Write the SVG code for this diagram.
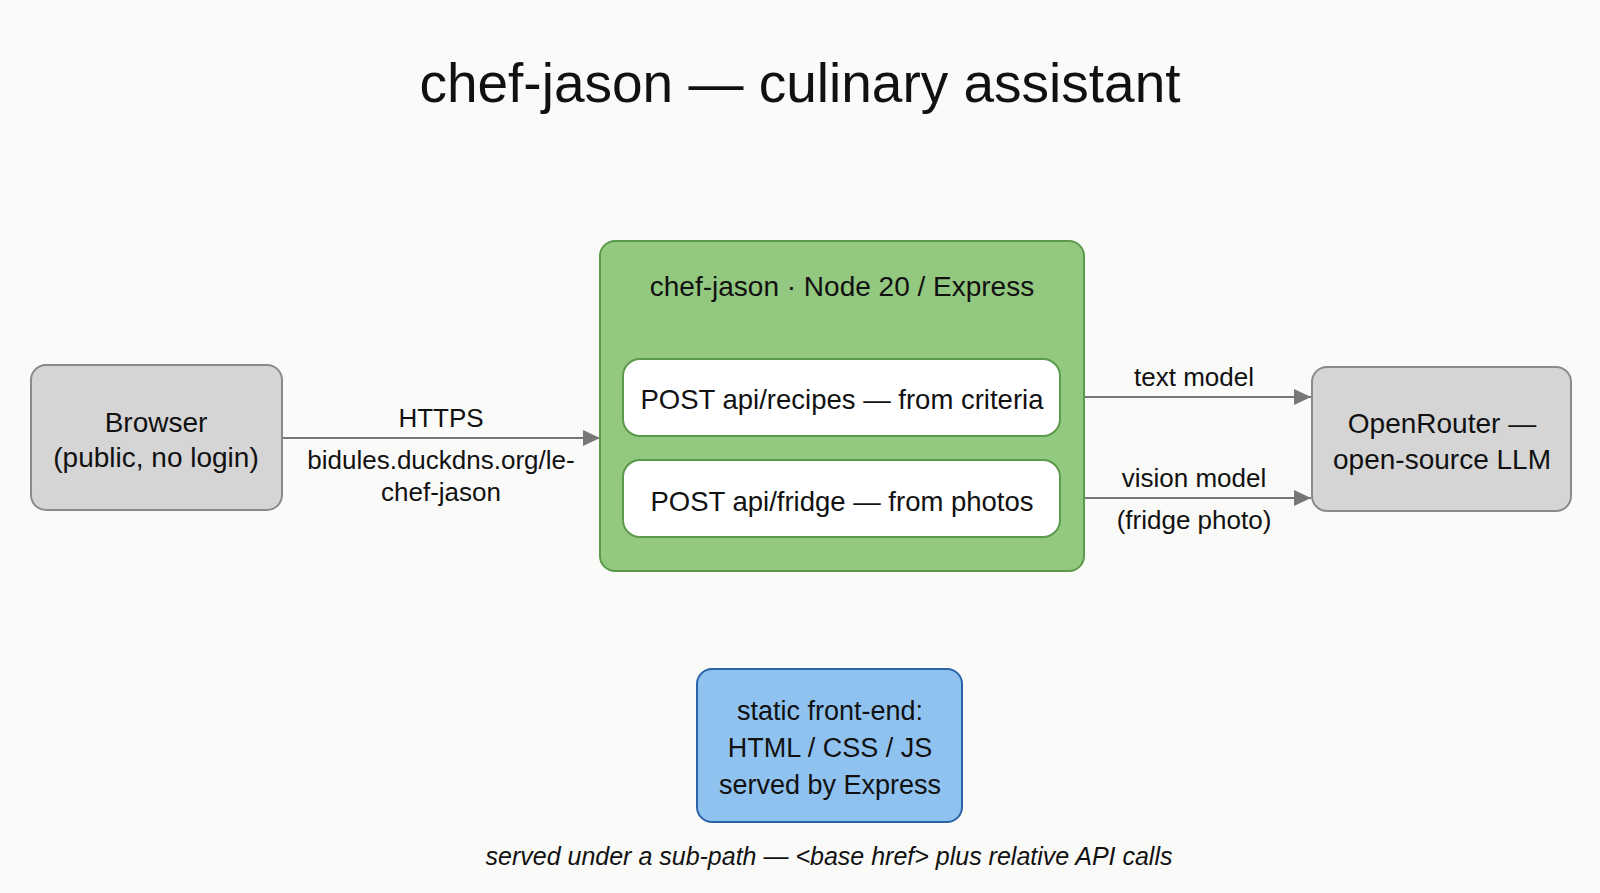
<svg xmlns="http://www.w3.org/2000/svg" width="1600" height="893" viewBox="0 0 1600 893">
  <style>
    text { font-family: "Liberation Sans", Arial, sans-serif; fill: #111; text-anchor: middle; }
    .title { font-size: 55px; }
    .node { font-size: 28px; }
    .route-t { font-size: 27.5px; }
    .front { font-size: 27px; }
    .lbl { font-size: 26px; }
    .foot { font-size: 25px; font-style: italic; }
    .gray { fill: #d5d5d5; stroke: #8a8a8a; stroke-width: 2; }
    .green { fill: #93c880; stroke: #5b9a4b; stroke-width: 2; }
    .route { fill: #ffffff; stroke: #5b9a4b; stroke-width: 2; }
    .blue { fill: #90c2f0; stroke: #2a64a8; stroke-width: 2; }
    .edge { fill: none; stroke: #777; stroke-width: 2; }
  </style>
  <defs>
    <marker id="arrow" viewBox="0 0 17 16" refX="17" refY="8" markerWidth="17" markerHeight="16" markerUnits="userSpaceOnUse" orient="auto">
      <path d="M0,0 L17,8 L0,16 Z" fill="#777"/>
    </marker>
  </defs>
  <rect width="1600" height="893" fill="#fafaf8"/>
  <text class="title" x="800" y="102">chef-jason — culinary assistant</text>

  <g id="connectors">
    <line class="edge" x1="282" y1="438" x2="600" y2="438" marker-end="url(#arrow)"/>
    <text class="lbl" x="441" y="427">HTTPS</text>
    <text class="lbl" x="441" y="469">bidules.duckdns.org/le-</text>
    <text class="lbl" x="441" y="501">chef-jason</text>
    <line class="edge" x1="1060" y1="397" x2="1311" y2="397" marker-end="url(#arrow)"/>
    <text class="lbl" x="1194" y="386">text model</text>
    <line class="edge" x1="1060" y1="498" x2="1311" y2="498" marker-end="url(#arrow)"/>
    <text class="lbl" x="1194" y="487">vision model</text>
    <text class="lbl" x="1194" y="529">(fridge photo)</text>
  </g>

  <g id="browser">
    <rect class="gray" x="31" y="365" width="251" height="145" rx="15"/>
    <text class="node" x="156" y="432">Browser</text>
    <text class="node" x="156" y="467">(public, no login)</text>
  </g>

  <g id="server">
    <rect class="green" x="600" y="241" width="484" height="330" rx="15"/>
    <text class="node" x="842" y="296">chef-jason · Node 20 / Express</text>
  </g>

  <g id="route-recipes">
    <rect class="route" x="623" y="359" width="437" height="77" rx="17"/>
    <text class="route-t" x="842" y="409">POST api/recipes — from criteria</text>
  </g>

  <g id="route-fridge">
    <rect class="route" x="623" y="460" width="437" height="77" rx="17"/>
    <text class="route-t" x="842" y="511">POST api/fridge — from photos</text>
  </g>

  <g id="openrouter">
    <rect class="gray" x="1312" y="367" width="259" height="144" rx="15"/>
    <text class="node" x="1442" y="433">OpenRouter —</text>
    <text class="node" x="1442" y="469">open-source LLM</text>
  </g>

  <g id="frontend">
    <rect class="blue" x="697" y="669" width="265" height="153" rx="15"/>
    <text class="front" x="830" y="720">static front-end:</text>
    <text class="front" x="830" y="757">HTML / CSS / JS</text>
    <text class="front" x="830" y="794">served by Express</text>
  </g>

  <text class="foot" x="829" y="865">served under a sub-path — &lt;base href&gt; plus relative API calls</text>
</svg>
